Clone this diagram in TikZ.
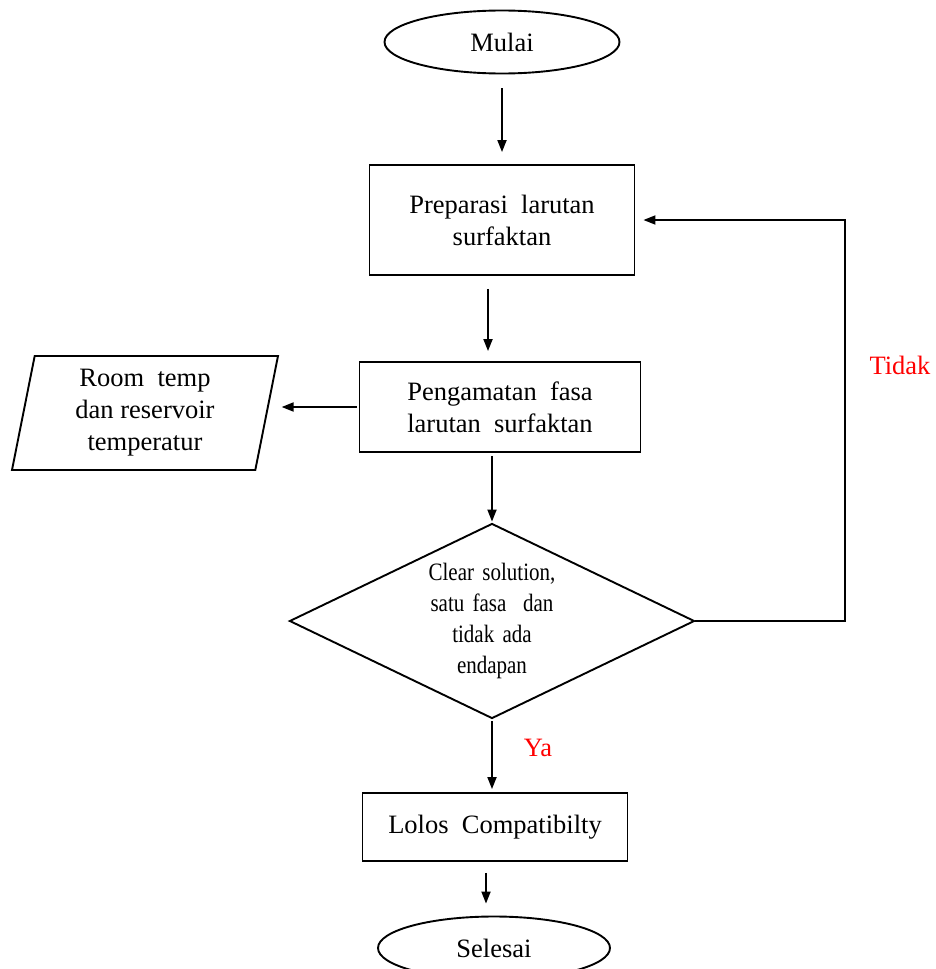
\documentclass[tikz,border=0pt]{standalone}
\usepackage{fontspec}
\setmainfont{Liberation Serif}
\newfontfamily\narrowfont[FakeStretch=0.84]{Liberation Serif}
\usetikzlibrary{arrows.meta,positioning,shapes.geometric}
\definecolor{labelred}{RGB}{255,0,0}

\begin{document}
\begin{tikzpicture}[x=1pt, y=-1pt, >={Triangle[length=12pt,width=9pt]},
  line width=1.9pt,
  every node/.style={font=\fontsize{26.5}{32}\selectfont},
  term/.style={draw,ellipse,minimum width=235pt,minimum height=63pt,inner sep=0pt},
  proc/.style={draw,rectangle,align=center,inner sep=0pt},
  io/.style={draw,trapezium,trapezium left angle=76,trapezium right angle=104,trapezium stretches body,align=center,inner sep=2pt,minimum width=266pt,minimum height=114pt},
  dec/.style={draw,diamond,aspect=2.08,align=center,inner sep=0pt,text width=140pt,minimum width=405pt,minimum height=195pt,font=\narrowfont\fontsize{25}{31}\selectfont},
  ans/.style={text=labelred}]
\useasboundingbox (0,0) rectangle (936,969);
\node[term] (mulai) at (502,42) {Mulai};
\node[proc,minimum width=265pt,minimum height=110pt] (prep) at (502,220) {Preparasi\ \ larutan\\surfaktan};
\node[proc,minimum width=281pt,minimum height=90pt] (peng) at (500,407) {Pengamatan\ \ fasa\\larutan\ \ surfaktan};
\node[io] (room) at (145,413) {Room\ \ temp\\dan reservoir\\temperatur};
\node[dec] (cek) at (492,621) {Clear solution,\\satu fasa\ \ dan\\tidak ada\\endapan};
\node[proc,minimum width=265pt,minimum height=68pt] (lolos) at (495,827) {Lolos\ \ Compatibilty};
\node[term,minimum width=232pt] (selesai) at (494,948) {Selesai};
\coordinate (turn) at (845,621);
\draw[->,shorten <=14pt,shorten >=12pt] (mulai) -- (prep);
\draw[->,shorten <=13pt,shorten >=10pt] ([xshift=-14pt]prep.south) -- ([xshift=-12pt]peng.north);
\draw[->,shorten <=2pt,shorten >=14pt] (peng.west) -- (room.east |- peng.west);
\draw[->,shorten <=3pt,shorten >=1pt] (peng.south -| cek.north) -- (cek.north);
\draw[->,shorten >=8pt] (cek.east) -- (turn) |- (prep.east);
\node[ans] (tidak) at (900,365) {Tidak};
\draw[->,shorten <=2pt,shorten >=3pt] (cek.south) -- (cek.south |- lolos.north);
\node[ans] (ya) at (538,748) {Ya};
\draw[->,shorten <=11pt,shorten >=12pt] ([xshift=-9pt]lolos.south) -- ([xshift=-8pt]selesai.north);
\end{tikzpicture}
\end{document}
